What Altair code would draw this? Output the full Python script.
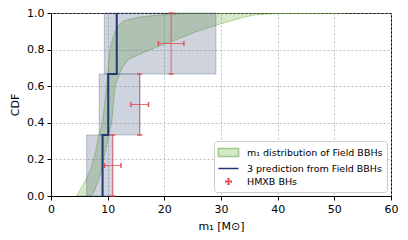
import altair as alt
import pandas as pd

# Field BBH m1 CDF band: m1 bounds (left = upper CDF, right = lower CDF) at given CDF levels
band_cdf = [0, 0.015, 0.08, 0.14, 0.23, 0.32, 0.40, 0.50, 0.60, 0.70, 0.75, 0.80,
            0.85, 0.90, 0.93, 0.955, 0.975, 0.99, 0.997, 1.0]
band_m1_left = [4.5, 4.8, 6.0, 6.9, 7.8, 8.35, 9.1, 9.45, 9.8, 10.1, 10.25, 10.4,
                10.8, 11.3, 11.9, 12.7, 15.1, 19.2, 23.0, 35.0]
band_m1_right = [7.0, 7.5, 8.3, 8.9, 9.5, 10.1, 10.7, 11.0, 11.3, 12.5, 13.8, 17.5,
                 21.7, 25.8, 28.8, 31.5, 33.8, 36.0, 40.0, 52.0]

# 3 predictions from Field BBHs (step CDF) with uncertainty boxes
pred_m1 = [9.1, 10.1, 11.6]
pred_lo = [6.3, 8.5, 9.4]
pred_hi = [10.9, 15.7, 29.1]
pred_cdf_lo = [0.0, 1 / 3, 2 / 3]
pred_cdf_hi = [1 / 3, 2 / 3, 1.0]

# HMXB BHs with error bars
hmxb_m1 = [10.9, 15.65, 21.2]
hmxb_m1_err = [1.45, 1.55, 2.25]
hmxb_cdf = [1 / 6, 1 / 2, 5 / 6]
hmxb_cdf_err = [1 / 6, 1 / 6, 1 / 6]

x_ticks = [0, 10, 20, 30, 40, 50, 60]
y_ticks = [0.0, 0.2, 0.4, 0.6, 0.8, 1.0]

legend_labels = ["m₁ distribution of Field BBHs", "3 prediction from Field BBHs", "HMXB BHs"]
legend_fill = ["#d5e9c8", "#1f3a70", "#e6424c"]
legend_stroke = ["#9cc98a", "#1f3a70", "#e6424c"]
legend_shape = [
    "M-1.55,-0.6H1.55V0.6H-1.55Z",
    "M-1.55,0H1.55",
    "M-0.4,0H0.4M0,-0.42V0.42M-0.4,-0.18V0.18M0.4,-0.18V0.18M-0.18,-0.42H0.18M-0.18,0.42H0.18",
]

xscale = alt.Scale(domain=[0, 60], nice=False, zero=False)
yscale = alt.Scale(domain=[0, 1], nice=False, zero=False)
xaxis = alt.Axis(values=x_ticks, format="d", title="m₁ [M⊙]", tickCount=7)
yaxis = alt.Axis(values=y_ticks, format=".1f", title="CDF", tickCount=6)


def X(f):
    return alt.X(f, type="quantitative", scale=xscale, axis=xaxis)


def Y(f):
    return alt.Y(f, type="quantitative", scale=yscale, axis=yaxis)


band = pd.DataFrame({"cdf": band_cdf, "left": band_m1_left, "right": band_m1_right})
area = alt.Chart(band).mark_area(
    orient="horizontal", fill="#6aaa3a", fillOpacity=0.27,
    stroke="#6aaa3a", strokeOpacity=0.45, strokeWidth=1, clip=True
).encode(y=Y("cdf"), x=X("left"), x2="right:Q")

boxes_df = pd.DataFrame({"lo": pred_lo, "hi": pred_hi, "ylo": pred_cdf_lo, "yhi": pred_cdf_hi})
boxes = alt.Chart(boxes_df).mark_rect(
    fill="#203864", fillOpacity=0.22, stroke="#4a5e84", strokeOpacity=0.35, strokeWidth=1
).encode(x=X("lo"), x2="hi:Q", y=Y("ylo"), y2="yhi:Q")

# step line points built from the prediction values
step_x, step_y = [], []
for i, m in enumerate(pred_m1):
    step_x += [m, m]
    step_y += [pred_cdf_lo[i], pred_cdf_hi[i]]
step_df = pd.DataFrame({"x": step_x, "y": step_y, "o": list(range(len(step_x)))})
step = alt.Chart(step_df).mark_line(color="#1f3a70", strokeWidth=2).encode(
    x=X("x"), y=Y("y"), order="o:Q"
)

hm = pd.DataFrame({
    "m1": hmxb_m1,
    "m1lo": [m - e for m, e in zip(hmxb_m1, hmxb_m1_err)],
    "m1hi": [m + e for m, e in zip(hmxb_m1, hmxb_m1_err)],
    "cdf": hmxb_cdf,
    "cdflo": [c - e for c, e in zip(hmxb_cdf, hmxb_cdf_err)],
    "cdfhi": [c + e for c, e in zip(hmxb_cdf, hmxb_cdf_err)],
})
red = "#e6424c"
base = alt.Chart(hm)
vbar = base.mark_rule(color=red, strokeWidth=1, opacity=0.75).encode(x=X("m1"), y=Y("cdflo"), y2="cdfhi:Q")
hbar = base.mark_rule(color=red, strokeWidth=1, opacity=0.75).encode(y=Y("cdf"), x=X("m1lo"), x2="m1hi:Q")
cap_top = base.mark_tick(color=red, orient="horizontal", size=5, thickness=1.5, opacity=0.9).encode(x=X("m1"), y=Y("cdfhi"))
cap_bot = base.mark_tick(color=red, orient="horizontal", size=5, thickness=1.5, opacity=0.9).encode(x=X("m1"), y=Y("cdflo"))
cap_l = base.mark_tick(color=red, orient="vertical", size=5, thickness=1.5, opacity=0.9).encode(x=X("m1lo"), y=Y("cdf"))
cap_r = base.mark_tick(color=red, orient="vertical", size=5, thickness=1.5, opacity=0.9).encode(x=X("m1hi"), y=Y("cdf"))

leg_df = pd.DataFrame({"series": legend_labels})
legend_layer = alt.Chart(leg_df).mark_point(filled=True, clip=True, opacity=1).encode(
    x=alt.value(-60), y=alt.value(-60),
    fill=alt.Fill("series:N", scale=alt.Scale(domain=legend_labels, range=legend_fill), title=None),
    stroke=alt.Stroke("series:N", scale=alt.Scale(domain=legend_labels, range=legend_stroke), title=None),
    shape=alt.Shape("series:N", scale=alt.Scale(domain=legend_labels, range=legend_shape), title=None),
)

chart = alt.layer(area, boxes, vbar, hbar, cap_top, cap_bot, cap_l, cap_r, step, legend_layer).properties(
    width=340, height=183,
    padding={"left": 43, "top": 5, "right": 9, "bottom": 42},
    autosize=alt.AutoSizeParams(type="none"),
).configure_axis(
    domainColor="black", tickColor="black", labelColor="black", titleColor="black",
    labelFont="DejaVu Sans", labelFontSize=11, titleFont="DejaVu Sans", titleFontSize=11,
    titleFontWeight="normal", gridColor="#b0b0b0", gridDash=[2, 2], gridWidth=0.8,
    tickSize=4, labelPadding=3, grid=True, labelOverlap=False, labelFlush=False,
    labelBound=False,
).configure_axisX(titlePadding=6).configure_axisY(titlePadding=6).configure_view(
    stroke="black", strokeWidth=1
).configure_legend(
    orient="bottom-right", offset=4, padding=4, fillColor="white", strokeColor="#cccccc",
    cornerRadius=3, labelFont="DejaVu Sans", labelFontSize=9.5, labelColor="black",
    symbolSize=169, symbolStrokeWidth=1.5, symbolOpacity=1, rowPadding=1,
    symbolOffset=3, labelOffset=11, labelLimit=300,
)

chart.save("out.html", embed_options={"renderer": "svg", "actions": False})
